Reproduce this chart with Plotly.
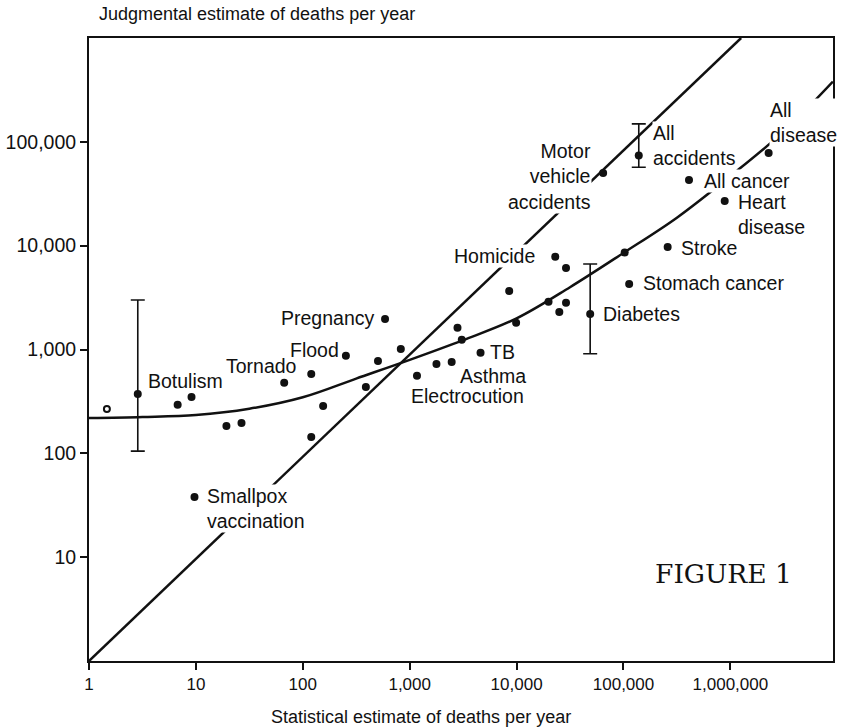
import math
import plotly.graph_objects as go

# ---------------- data ----------------
names = ["Botulism", "", "", "", "", "Tornado", "", "", "", "Flood",
         "Pregnancy", "", "", "", "Electrocution", "", "Asthma", "", "", "TB",
         "", "", "Homicide", "", "", "", "", "Diabetes", "", "Stomach cancer",
         "Stroke", "Motor vehicle accidents", "All accidents", "All cancer",
         "Heart disease", "All disease", "Smallpox vaccination"]
statistical = [2.86, 6.75, 9.1, 19.3, 26.7, 67, 120, 155, 120, 253,
               588, 505, 826, 389, 1170, 1780, 2470, 2800, 3070, 4600,
               9900, 8530, 23000, 29000, 19900, 29000, 25100, 48800, 102600, 113000,
               259000, 64500, 139000, 410000, 885000, 2280000, 9.7]
judgmental = [373, 293, 348, 183, 196, 478, 582, 286, 144, 870,
              1970, 777, 1010, 436, 560, 727, 760, 1620, 1240, 930,
              1810, 3650, 7800, 6100, 2880, 2820, 2300, 2200, 8590, 4270,
              9700, 50000, 74000, 43000, 27000, 78000, 38]

open_x = [1.47]
open_y = [268]

# error bars: (name, low, high)
err_names = ["Botulism", "Diabetes", "All accidents"]
err_low = [105, 910, 57000]
err_high = [3000, 6650, 149000]

# line of equal estimates
diag_x = [1, 1260000]
diag_y = [1, 1000000]

# fitted curve
curve_x = [1, 3.16, 10, 31.6, 100, 316, 1000, 3160, 10000, 31600,
           100000, 316000, 1000000, 3160000, 9100000]
curve_y = [219, 224, 234, 269, 347, 525, 794, 1230, 1995, 3980,
           8510, 18600, 46800, 126000, 380000]

xtick_vals = [1, 10, 100, 1000, 10000, 100000, 1000000]
xtick_text = ["1", "10", "100", "1,000", "10,000", "100,000", "1,000,000"]
ytick_vals = [10, 100, 1000, 10000, 100000]
ytick_text = ["10", "100", "1,000", "10,000", "100,000"]

# label placement: name -> (xanchor, xshift, yshift, align)
label_pos = {
    "Botulism": ("left", 9, 13, "left"),
    "Tornado": ("right", 14, 17, "right"),
    "Flood": ("right", -6, 6, "right"),
    "Pregnancy": ("right", -10, 1, "right"),
    "Electrocution": ("left", -7, -20, "left"),
    "Asthma": ("left", 7, -14, "left"),
    "TB": ("left", 8, 1, "left"),
    "Homicide": ("right", -19, 1, "right"),
    "Diabetes": ("left", 12, 0, "left"),
    "Stomach cancer": ("left", 13, 1, "left"),
    "Stroke": ("left", 12, -1, "left"),
    "Motor vehicle accidents": ("right", -11, -3, "right"),
    "All accidents": ("left", 13, 10, "left"),
    "All cancer": ("left", 14, -1, "left"),
    "Heart disease": ("left", 12, -14, "left"),
    "All disease": ("left", 0, 31, "left"),
    "Smallpox vaccination": ("left", 12, -12, "left"),
}
label_text = {
    "Motor vehicle accidents": "Motor<br>vehicle<br>accidents",
    "All accidents": "All<br>accidents",
    "Heart disease": "Heart<br>disease",
    "All disease": "All<br>disease",
    "Smallpox vaccination": "Smallpox<br>vaccination",
}

FONT = "Liberation Sans, Arial, sans-serif"
INK = "#111111"

fig = go.Figure()

fig.add_trace(go.Scatter(x=diag_x, y=diag_y, mode="lines",
                         line=dict(color=INK, width=2.5), hoverinfo="skip"))
fig.add_trace(go.Scatter(x=curve_x, y=curve_y, mode="lines",
                         line=dict(color=INK, width=2.5, shape="spline"),
                         hoverinfo="skip"))

# error bars
ex, ey, eplus, eminus = [], [], [], []
for n, lo, hi in zip(err_names, err_low, err_high):
    i = names.index(n)
    ex.append(statistical[i])
    ey.append(judgmental[i])
    eplus.append(hi - judgmental[i])
    eminus.append(judgmental[i] - lo)
fig.add_trace(go.Scatter(x=ex, y=ey, mode="markers",
                         marker=dict(size=1, color=INK),
                         error_y=dict(type="data", symmetric=False, array=eplus,
                                      arrayminus=eminus, color=INK,
                                      thickness=1.6, width=7),
                         hoverinfo="skip"))

fig.add_trace(go.Scatter(x=statistical, y=judgmental, mode="markers",
                         marker=dict(size=8, color=INK), text=names))
fig.add_trace(go.Scatter(x=open_x, y=open_y, mode="markers",
                         marker=dict(size=6, color="white",
                                     line=dict(color=INK, width=2))))

annotations = []
for n, (xa, xs, ys, al) in label_pos.items():
    i = names.index(n)
    annotations.append(dict(
        x=math.log10(statistical[i]), y=math.log10(judgmental[i]),
        xref="x", yref="y", text=label_text.get(n, n), showarrow=False,
        xanchor=xa, yanchor="middle", xshift=xs, yshift=ys, align=al,
        font=dict(family=FONT, size=19.5, color=INK),
        bgcolor="white", borderpad=0))

annotations.append(dict(
    x=0, y=1, xref="paper", yref="paper", xanchor="left", yanchor="bottom",
    xshift=8, yshift=12, showarrow=False,
    text="Judgmental estimate of deaths per year",
    font=dict(family=FONT, size=18, color=INK)))
annotations.append(dict(
    x=0.446, y=0, xref="paper", yref="paper", xanchor="center", yanchor="middle",
    yshift=-56, showarrow=False,
    text="Statistical estimate of deaths per year",
    font=dict(family=FONT, size=18, color=INK)))
annotations.append(dict(
    x=0.947, y=0.14, xref="paper", yref="paper", xanchor="right", yanchor="middle",
    showarrow=False, text="FIGURE 1",
    font=dict(family="DejaVu Serif, Liberation Serif, serif", size=26.5, color=INK)))

fig.update_layout(
    width=841, height=728,
    margin=dict(l=88, r=6, t=38, b=67),
    paper_bgcolor="white", plot_bgcolor="white",
    showlegend=False,
    annotations=annotations,
    font=dict(family=FONT, color=INK),
)
fig.update_xaxes(type="log", range=[0, 6.96], tickvals=xtick_vals, ticktext=xtick_text,
                 ticks="outside", ticklen=7, tickwidth=1.5, tickcolor=INK,
                 showline=True, linewidth=2, linecolor=INK, mirror=True,
                 showgrid=False, zeroline=False,
                 tickfont=dict(family=FONT, size=17, color=INK))
fig.update_yaxes(type="log", range=[0, 6], tickvals=ytick_vals, ticktext=ytick_text,
                 ticks="outside", ticklen=7, tickwidth=1.5, tickcolor=INK,
                 showline=True, linewidth=2, linecolor=INK, mirror=True,
                 showgrid=False, zeroline=False,
                 tickfont=dict(family=FONT, size=19.5, color=INK))

fig.write_html("out.html",
               config={"displayModeBar": False},
               post_script="document.body.style.margin='0';"
                           "document.body.style.overflow='hidden';")
